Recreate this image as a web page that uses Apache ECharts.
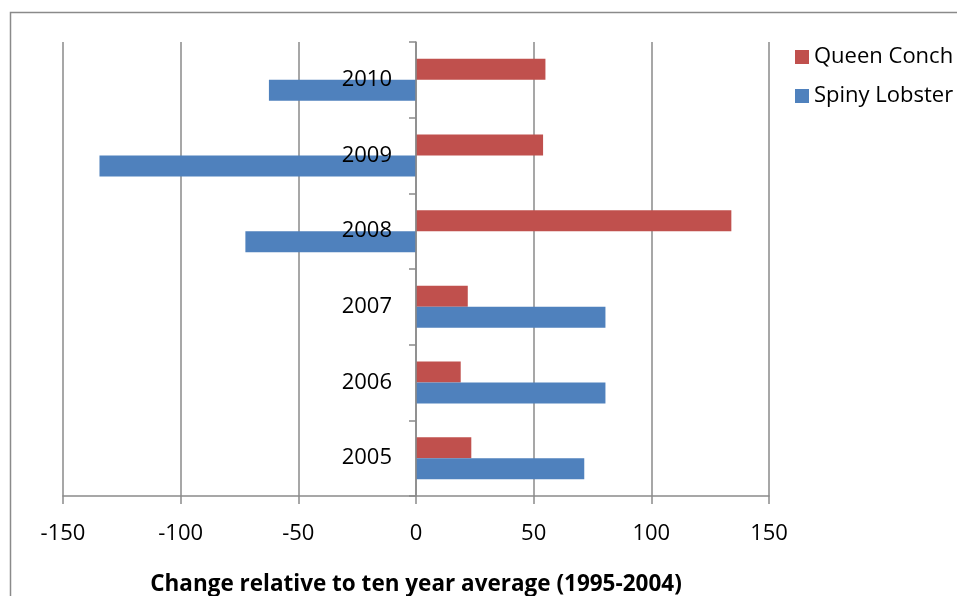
<!DOCTYPE html>
<html><head><meta charset="utf-8">
<script src="https://cdn.jsdelivr.net/npm/echarts@6/dist/echarts.min.js"></script>
<style>html,body{margin:0;padding:0;background:#fff}#c{width:957px;height:596px}</style>
</head><body><div id="c"></div>
<script>
const years = ['2005','2006','2007','2008','2009','2010'];
const queenConch = [23.5, 19, 22, 134, 54, 55];
const spinyLobster = [71.5, 80.5, 80.5, -72.5, -134.5, -62.5];
const xTicks = {min: -150, max: 150, step: 50};
const seriesNames = ['Queen Conch', 'Spiny Lobster'];
const axisTitle = 'Change relative to ten year average (1995-2004)';

const FONT = '"Open Sans", sans-serif';
const GRID = {left: 63, right: 188, top: 42, bottom: 100};
const plotW = 957 - GRID.left - GRID.right;
const zeroOffset = -plotW * (0 - xTicks.min) / (xTicks.max - xTicks.min);

const chart = echarts.init(document.getElementById('c'));
chart.setOption({
  animation: false,
  textStyle: {fontFamily: FONT},
  graphic: [{type: 'rect', shape: {x: 10.5, y: 12.5, width: 1200, height: 1200},
    style: {fill: 'none', stroke: '#8a8a8a', lineWidth: 1.5}, z: -1}],
  grid: Object.assign({containLabel: false, outerBoundsMode: 'none'}, GRID),
  legend: {
    orient: 'vertical', left: 790, top: 41, icon: 'rect',
    itemWidth: 14, itemHeight: 14, itemGap: 17,
    data: seriesNames,
    textStyle: {fontSize: 22, color: '#000', fontFamily: FONT}
  },
  xAxis: {
    type: 'value', min: xTicks.min, max: xTicks.max, interval: xTicks.step,
    axisLine: {show: true, onZero: false, lineStyle: {color: '#8a8a8a', width: 1.5}},
    axisTick: {show: true, length: 8, lineStyle: {color: '#8a8a8a', width: 1.5}},
    splitLine: {show: true, lineStyle: {color: '#8a8a8a', width: 1.5}},
    axisLabel: {fontSize: 22, color: '#000', margin: 27, fontFamily: FONT},
    name: axisTitle, nameLocation: 'middle', nameGap: 77,
    nameTextStyle: {fontSize: 22.5, fontWeight: 'bold', color: '#000', fontFamily: FONT}
  },
  yAxis: {
    type: 'category', data: years, z: 10, offset: zeroOffset,
    axisLine: {show: true, onZero: false, lineStyle: {color: '#8a8a8a', width: 1.5}},
    axisTick: {show: true, length: 7, lineStyle: {color: '#8a8a8a', width: 1.5}},
    axisLabel: {fontSize: 22, color: '#000', margin: 24, fontFamily: FONT},
    splitLine: {show: false}
  },
  series: [
    {name: seriesNames[0], type: 'bar', data: queenConch, barWidth: 21, barGap: '0%',
     itemStyle: {color: '#C0504D'}},
    {name: seriesNames[1], type: 'bar', data: spinyLobster, barWidth: 21, barGap: '0%',
     itemStyle: {color: '#4F81BD'}}
  ]
});
</script></body></html>
